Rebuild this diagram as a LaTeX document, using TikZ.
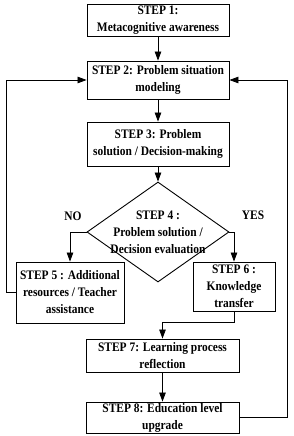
\documentclass[tikz,border=0pt]{standalone}
\usepackage{fontspec}
\setmainfont{Liberation Serif}[FakeStretch=0.88]
\usetikzlibrary{shapes.geometric}
\usetikzlibrary{arrows.meta}

\begin{document}
\begin{tikzpicture}[x=1pt, y=-1pt,
	every node/.style={font=\fontsize{13}{17}\selectfont\bfseries, align=center},
	stepbox/.style={draw, line width=0.9pt, inner sep=0pt},
	decision/.style={diamond, draw, line width=0.9pt, aspect=1.42, inner sep=-6pt,
		minimum width=142pt, minimum height=100pt},
	arr/.style={-{Triangle[length=9pt, width=6.5pt]}, line width=0.8pt}]
	
	\useasboundingbox (0,0) rectangle (294,436);
	
	% --- main column: steps 1 to 4 ---
	\node[stepbox, minimum width=142pt, minimum height=32pt] (s1) at (158,20)
	{STEP 1:\\ Metacognitive awareness};
	\node[stepbox, minimum width=142pt, minimum height=38pt] (s2) at (158,80)
	{STEP 2: Problem situation\\ modeling};
	\node[stepbox, minimum width=142pt, minimum height=44pt] (s3) at (158,144)
	{STEP 3: Problem\\ solution / Decision-making};
	\node[decision] (s4) at (158,232)
	{STEP 4 :\\ Problem solution /\\ Decision evaluation};
	
	\draw[arr] (s1.south) -- (s2.north);
	\draw[arr] (s2.south) -- (s3.north);
	\draw[arr] (s3.south) -- (s4.north);
	
	% --- the two branches ---
	\node (no) at (73,216) {NO};
	\node (yes) at (253,215) {YES};
	
	\node[stepbox, minimum width=108pt, minimum height=61pt] (s5) at (70,292.5)
	{STEP 5 : Additional\\ resources / Teacher\\ assistance};
	\node[stepbox, minimum width=82pt, minimum height=49pt] (s6) at (234,286.5)
	{STEP 6 :\\ Knowledge\\ transfer};
	
	\draw[arr] (s4.west) -| (s5.north);
	\draw[arr] (s4.east) -| (s6.north);
	
	% --- steps 7 and 8 ---
	\node[stepbox, minimum width=153pt, minimum height=33pt] (s7) at (162.5,355.5)
	{STEP 7: Learning process\\ reflection};
	\node[stepbox, minimum width=153pt, minimum height=31pt] (s8) at (162.5,417.5)
	{STEP 8: Education level\\ upgrade};
	
	\draw[arr] (s6.south) -- ++(0,11) -| (s7.north);
	\draw[arr] (s7.south) -- (s8.north);
	
	% --- feedback loops back to step 2 ---
	\draw[arr] (s5.west) -- ++(-9,0) |- (s2.west);
	\draw[arr] (s8.east) -- ++(48,0) |- (s2.east);
	
\end{tikzpicture}
\end{document}
